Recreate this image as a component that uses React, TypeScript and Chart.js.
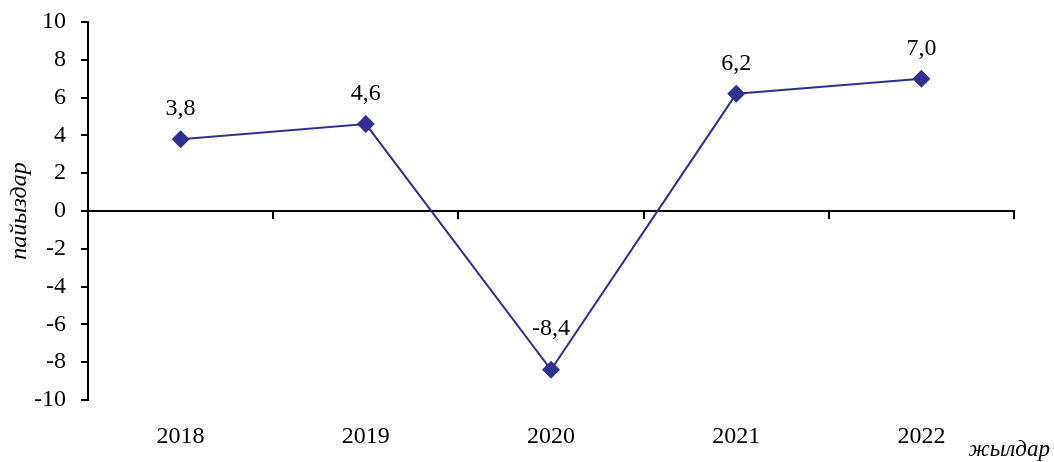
import React, { useEffect, useRef } from 'react';
import { Chart, registerables } from 'chart.js';

Chart.register(...registerables);

const categories: string[] = ['2018', '2019', '2020', '2021', '2022'];
const values: number[] = [3.8, 4.6, -8.4, 6.2, 7.0];
const yMin = -10;
const yMax = 10;
const yStep = 2;
const yAxisTitle = 'пайыздар';
const xAxisTitle = 'жылдар';

const SERIF = "'Liberation Serif', 'Times New Roman', serif";
const LINE_COLOR = '#2E3192';

const fmt = (v: number) => v.toFixed(1).replace('.', ',');

const zeroPad = (scale: any) => {
  scale.paddingTop = 0;
  scale.paddingBottom = 0;
  scale.paddingLeft = 0;
  scale.paddingRight = 0;
};

const dataLabelPlugin = {
  id: 'dataLabels',
  afterDatasetsDraw(chart: any) {
    const ctx = chart.ctx;
    const meta = chart.getDatasetMeta(0);
    ctx.save();
    ctx.font = `24px ${SERIF}`;
    ctx.fillStyle = '#000';
    ctx.textAlign = 'center';
    ctx.textBaseline = 'middle';
    meta.data.forEach((pt: any, i: number) => {
      const v = values[i];
      const off = v < 0 ? 41 : 30;
      ctx.fillText(fmt(v), pt.x, pt.y - off);
    });
    ctx.restore();
  },
};

const xTitlePlugin = {
  id: 'xTitle',
  afterDraw(chart: any) {
    const ctx = chart.ctx;
    ctx.save();
    ctx.font = `italic 23px ${SERIF}`;
    ctx.fillStyle = '#000';
    ctx.textAlign = 'right';
    ctx.textBaseline = 'alphabetic';
    ctx.fillText(xAxisTitle, 1050, 456);
    ctx.restore();
  },
};

export default function App() {
  const canvasRef = useRef<HTMLCanvasElement | null>(null);

  useEffect(() => {
    document.body.style.margin = '0';
    const canvas = canvasRef.current;
    if (!canvas) return;
    const chart = new Chart(canvas, {
      type: 'line',
      data: {
        labels: categories,
        datasets: [
          {
            data: values,
            borderColor: LINE_COLOR,
            backgroundColor: LINE_COLOR,
            borderWidth: 2,
            pointStyle: 'rectRot',
            pointRadius: 9,
            pointBackgroundColor: LINE_COLOR,
            pointBorderColor: LINE_COLOR,
            pointBorderWidth: 0,
            tension: 0,
            fill: false,
            clip: false as any,
          },
        ],
      },
      options: {
        responsive: false,
        animation: false,
        devicePixelRatio: 1,
        events: [],
        layout: { padding: { left: 0, top: 22, right: 40, bottom: 0 } },
        plugins: {
          legend: { display: false },
          tooltip: { enabled: false },
          title: { display: false },
        },
        scales: {
          x: {
            type: 'category',
            position: 'bottom',
            offset: true,
            grid: { display: false },
            border: { display: false },
            ticks: {
              color: '#000',
              font: { family: SERIF, size: 24 },
              padding: 14,
              maxRotation: 0,
              autoSkip: false,
            },
            afterFit: (scale: any) => {
              scale.height = 62;
              zeroPad(scale);
            },
          },
          x0: {
            type: 'category',
            axis: 'x',
            position: { y: 0 } as any,
            offset: true,
            grid: {
              display: true,
              offset: true,
              drawOnChartArea: false,
              drawTicks: true,
              tickLength: 7,
              color: '#000',
              lineWidth: 2,
            },
            border: { display: true, color: '#000', width: 2 },
            ticks: { display: false },
            afterFit: (scale: any) => {
              zeroPad(scale);
            },
          } as any,
          y: {
            type: 'linear',
            position: 'left',
            min: yMin,
            max: yMax,
            ticks: {
              stepSize: yStep,
              color: '#000',
              font: { family: SERIF, size: 24 },
              padding: 15,
              callback: (v: any) => String(v),
            },
            grid: {
              display: true,
              drawOnChartArea: false,
              drawTicks: true,
              tickLength: 7,
              color: '#000',
              lineWidth: 2,
            },
            border: { display: true, color: '#000', width: 2 },
            title: {
              display: true,
              text: yAxisTitle,
              color: '#000',
              font: { family: SERIF, size: 24, style: 'italic' },
              padding: { top: 5, bottom: 0 },
            },
            afterFit: (scale: any) => {
              scale.width = 88;
              zeroPad(scale);
            },
          },
        },
      },
      plugins: [dataLabelPlugin, xTitlePlugin],
    });
    return () => chart.destroy();
  }, []);

  return (
    <div style={{ position: 'fixed', left: 0, top: 0, width: 1054, height: 462, background: '#fff' }}>
      <canvas ref={canvasRef} width={1054} height={462} style={{ width: 1054, height: 462, display: 'block' }} />
    </div>
  );
}
